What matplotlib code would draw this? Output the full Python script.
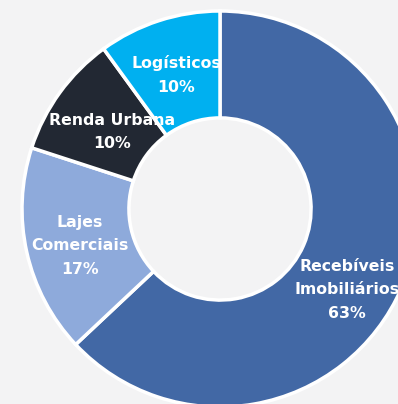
# donut chart of the portfolio split

import matplotlib.pyplot as plt

labels = ["Recebíveis\nImobiliários", "Lajes\nComerciais", "Renda Urbana", "Logísticos"]
shares = [63, 17, 10, 10]
colors = ["#4268a5", "#8eaadb", "#222833", "#00b0f0"]

W, H = 398, 404
cx, cy = 220, H - 209
R = 198

fig = plt.figure(figsize=(W / 100, H / 100), dpi=100)
fig.patch.set_facecolor("#f3f3f4")
ax = fig.add_axes([0, 0, 1, 1])
ax.set_facecolor("#f3f3f4")

ax.pie(shares, colors=colors, startangle=90, counterclock=False,
       center=(cx, cy), radius=R,
       wedgeprops=dict(width=R * 0.54, edgecolor="white", linewidth=2.5))

ax.set_xlim(0, W)
ax.set_ylim(0, H)
ax.set_aspect("equal")
ax.axis("off")

# label spots picked by eye (pixel coords, y from top)
spots = [(347, 290), (80, 246), (112, 132), (176, 75)]
font = dict(color="white", fontsize=11.3, fontweight="bold",
            family=["DejaVu Sans"], ha="center", va="center",
            linespacing=1.72)
for lab, val, (x, y) in zip(labels, shares, spots):
    ax.text(x, H - y, f"{lab}\n{val}%", **font)

fig.savefig("out.png", dpi=100, facecolor=fig.get_facecolor())
